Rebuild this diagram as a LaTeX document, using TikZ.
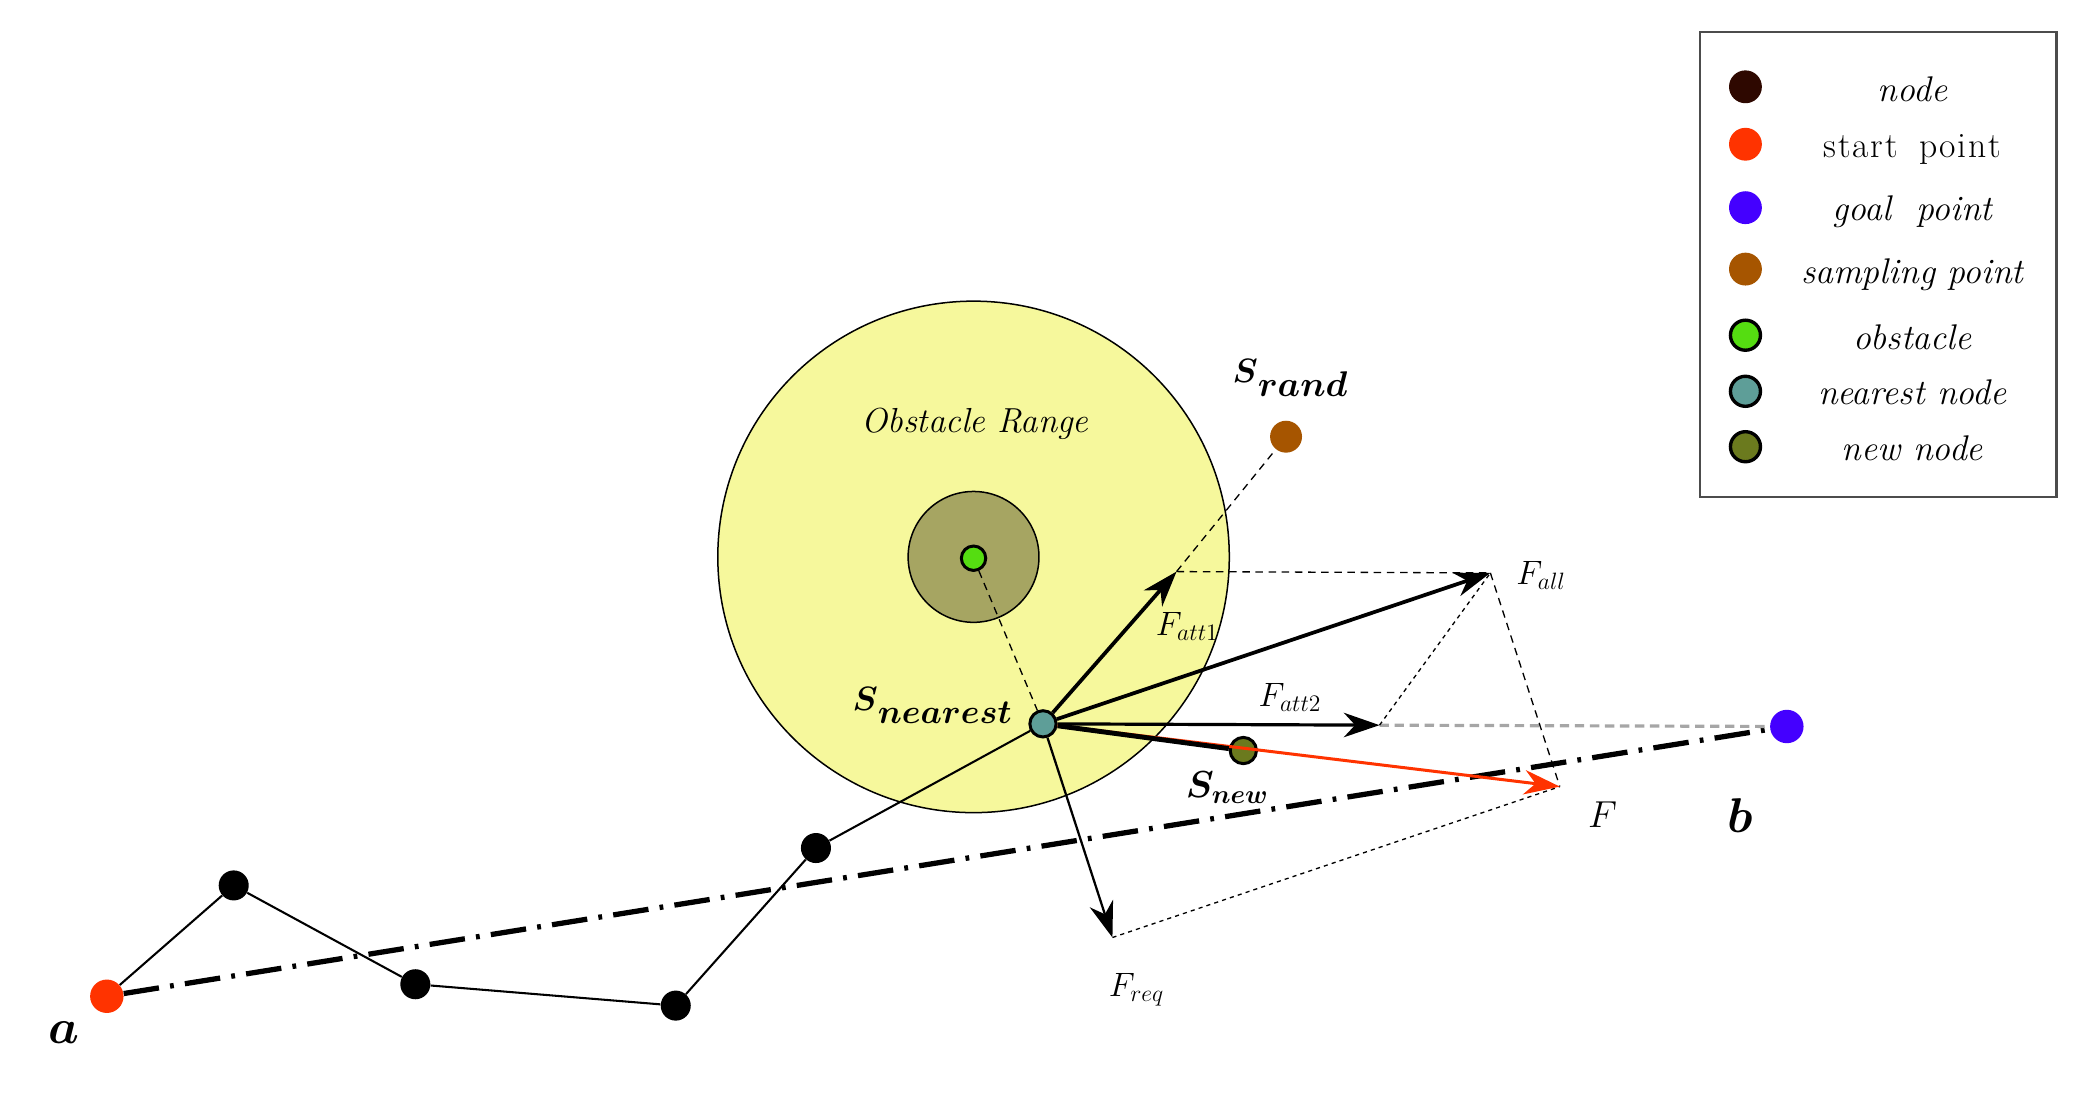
\RequirePackage{fix-cm}
\documentclass[tikz,border=0pt]{standalone}
\usepackage{fontspec}
\usepackage{bm}
\usetikzlibrary{arrows.meta}
\definecolor{nodecol}{HTML}{2E0800}
\definecolor{startcol}{HTML}{FF3300}
\definecolor{goalcol}{HTML}{4400FF}
\definecolor{samplecol}{HTML}{A65500}
\definecolor{obscol}{HTML}{55DD11}
\definecolor{nearcol}{HTML}{5E9E98}
\definecolor{newcol}{HTML}{6B7A1E}
\definecolor{rangecol}{HTML}{F6F89C}
\definecolor{innercol}{HTML}{A6A562}
\begin{document}
\begin{tikzpicture}[x=0.025cm,y=-0.025cm,
 blob/.style={circle,inner sep=0pt,minimum size=#1},
 treenode/.style={blob=16pt,fill=black},
 ringdot/.style={blob=14pt,draw=black,line width=1.6pt},
 legdot/.style={blob=17.5pt},
 legring/.style={blob=16pt,draw=black,line width=1.8pt},
 tree/.style={line width=1.1pt},
 force/.style={line width=2pt,-{Stealth[length=19pt,width=13pt,inset=6pt]}},
 guide/.style={line width=0.7pt,dash pattern=on 4pt off 3pt},
 para/.style={line width=0.7pt,dash pattern=on 2.2pt off 2.2pt},
 lbl/.style={inner sep=0pt},
 legtxt/.style={font=\fontsize{19}{23}\selectfont\itshape,inner sep=0pt,anchor=base},
 flabel/.style={font=\fontsize{18}{22}\selectfont,inner sep=0pt}
]
\useasboundingbox (0,0) rectangle (1568,823);

% obstacle range
\filldraw[fill=rangecol,draw=black,line width=0.8pt] (729,417) circle[radius=191.5];
\filldraw[fill=innercol,draw=black,line width=0.8pt] (729,417) circle[radius=49];
\node[lbl,font=\fontsize{18.5}{22}\selectfont\itshape] (rangetxt) at (730,317) {Obstacle Range};

% points
\node[blob=17.8pt,fill=startcol] (a) at (80,746) {};
\node[treenode] (n1) at (175,663) {};
\node[treenode] (n2) at (311,737) {};
\node[treenode] (n3) at (506,753) {};
\node[treenode] (n4) at (611,635) {};
\node[ringdot,fill=nearcol] (sn) at (781,542) {};
\node[ringdot,fill=newcol] (snew) at (931,562) {};
\node[ringdot,fill=obscol,minimum size=13pt] (obs) at (729,418) {};
\node[blob=17pt,fill=samplecol] (sr) at (963,327) {};
\node[blob=17.8pt,fill=goalcol] (b) at (1338,544) {};

\coordinate (tatt1) at (881,428);
\coordinate (tall) at (1116,429);
\coordinate (tatt2) at (1033,543);
\coordinate (trep) at (833,702);
\coordinate (tF) at (1168,589);

% straight line a-b
\draw[line width=2.8pt,dash pattern=on 19pt off 6pt on 2pt off 6pt] (a) -- (b);
% tree
\draw[tree] (a) -- (n1) -- (n2) -- (n3) -- (n4) -- (sn);
% guides
\draw[guide] (obs) -- (sn);
\draw[guide] (tatt1) -- (sr);
\draw[guide] (tatt1) -- (tall);
\draw[gray!70,line width=1.7pt,dash pattern=on 5pt off 3pt] (tatt2) -- (b);
\draw[para] (tatt2) -- (tall);
\draw[para] (trep) -- (tF);
\draw[guide] (tall) -- (tF);
% forces
\draw[force] (sn) -- (tatt1);
\draw[force] (sn) -- (tall);
\draw[force,line width=1.7pt] (sn) -- (tatt2);
\draw[force,line width=1.2pt] (sn) -- (trep);
\draw[force,startcol,line width=1.6pt] (sn) -- (tF);
\draw[line width=2.6pt] (sn) -- (snew);

% labels
\node[lbl,font=\fontsize{26}{30}\selectfont] (alab) at (48,773) {$\bm{a}$};
\node[lbl,font=\fontsize{26}{30}\selectfont] (blab) at (1303,611) {$\bm{b}$};
\node[lbl] (srlab) at (966,283) {{\fontsize{18}{22}\selectfont$\bm{S}$}\raisebox{-7pt}{\fontsize{19}{22}\selectfont$\bm{rand}$}};
\node[lbl] (snlab) at (698,528) {{\fontsize{18}{22}\selectfont$\bm{S}$}\raisebox{-7pt}{\fontsize{18}{22}\selectfont$\bm{nearest}$}};
\node[lbl,font=\fontsize{20}{24}\selectfont] (snewlab) at (919,590) {$\bm{S}_{\bm{new}}$};
\node[flabel] (fatt1lab) at (889,469) {$F_{att1}$};
\node[flabel] (falllab) at (1154,431) {$F_{all}$};
\node[flabel] (fatt2lab) at (966,522) {$F_{att2}$};
\node[flabel,font=\fontsize{20}{24}\selectfont] (flab) at (1200,610) {$F$};
\node[flabel] (freplab) at (851,741) {$F_{req}$};

% legend
\draw[gray!60!black,line width=1.2pt] (1273,24) rectangle (1540,372);
\node[legdot,fill=nodecol] (ld1) at (1307,65) {};
\node[legdot,fill=startcol] (ld2) at (1307,108) {};
\node[legdot,fill=goalcol] (ld3) at (1307,155.5) {};
\node[legdot,fill=samplecol] (ld4) at (1307,201.5) {};
\node[legring,fill=obscol] (ld5) at (1307,251) {};
\node[legring,fill=nearcol] (ld6) at (1307,293) {};
\node[legring,fill=newcol] (ld7) at (1307,334.5) {};
\node[legtxt] (lt1) at (1432,76) {node};
\node[legtxt,font=\fontsize{19}{23}\selectfont\upshape] (lt2) at (1432,118) {s\kern1pt t\kern1pt a\kern1pt r\kern1pt t\ \ p\kern1pt o\kern1pt i\kern1pt n\kern1pt t};
\node[legtxt] (lt3) at (1432,165) {goal\ \ point};
\node[legtxt] (lt4) at (1432,212) {sampling point};
\node[legtxt] (lt5) at (1432,262) {obstacle};
\node[legtxt] (lt6) at (1432,303) {nearest node};
\node[legtxt] (lt7) at (1432,345) {new node};
\end{tikzpicture}
\end{document}
